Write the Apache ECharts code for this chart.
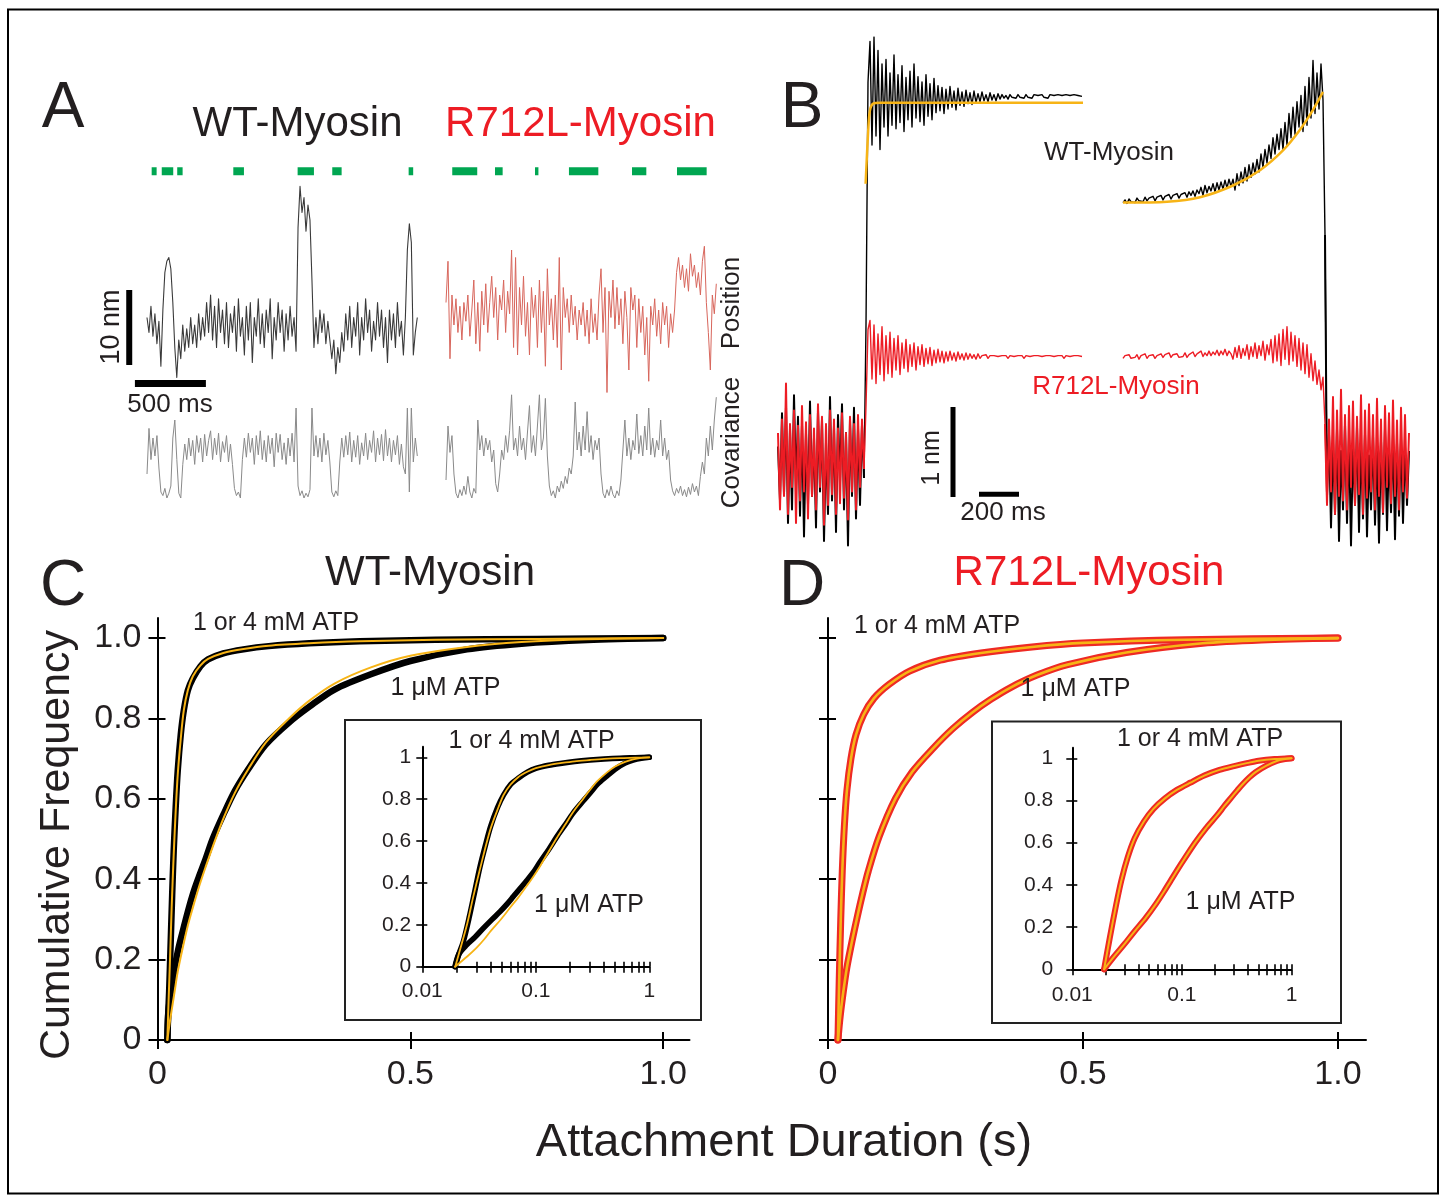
<!DOCTYPE html>
<html><head><meta charset="utf-8">
<script src="https://cdn.jsdelivr.net/npm/echarts@6/dist/echarts.min.js"></script>
<style>html,body{margin:0;padding:0;background:#fff}#c{width:1445px;height:1196px}</style>
</head><body><div id="c"></div>
<script>
// ================= DATA =================
// Panel A: single-molecule traces, one sample every 14 ms
const aSampleMs = 14;
// position, nm
const wtPosition = [1,-1,2.5,-1.5,1.5,-2.5,0.5,-5.5,2,7, 8.5,9,7.5,3,-3,-7,-2,-4.5,0,-3.5, -0.5,-3,1,-2.5,0,-3,1.5,-2,1,-1.5, 3,-1,4,-2,2.5,-3,3.5,-1,2,-2.5, 3,-3,1.5,-1,2.5,-3.5,3.5,-1.5,1,-4, 2.5,-2,3,-5,1,-1.5,3.5,-2.5,1.5,-3, 2,-1,3.5,-4.5,1,-2,3,-1,2,-3.5, 1.5,-2,2.5,-1.5,1,-3.5,13,18.5,15,17, 12.5,16,14,6,-3,1,-2.5,2,-1,1.5, -2.5,0.5,-2,-4.5,-2,-6.5,-3,-5,-1,-3.5, 1.5,-2,2.5,-3,1,-1.5,3,-4,1,-2, 3.5,-1,2,-3.5,0.5,-2,3,-1.5,2,-3, 1,-5,2,-2,1.5,-3,3,-1.5,0.5,-4, 1,10,13.5,11,-4,-1,1];
const r712Position = [3,8.5,-4.5,4,0,3.5,-1,2.5,-2,3, 0.5,4,-1.5,2,6,-2.5,3,-3.5,4.5,0, 5.5,-1,3,6.5,1,5,-2,4,2,6, -1,4.5,1.5,10,-3,9,-4,5,0,6.5, -1.5,3,-4,5,1,4,-3,6,-1,4.5, -5.5,7.5,0,3.5,-2,4,-3,9,-6,5, 1,3.5,-1,4,0,2.5,-2,2,0,3, -1.5,2,-2.5,3.5,-1,1.5,-2,4,7.5,-1, 5,-9,4.5,1,6,-0.5,5,0,3.5,-2.5, 4.5,1,-6,5,2,4,-3,3.5,-1,2.5, -4,1,-7.5,2.5,0,3.5,-1.5,2,-2.5,3, 0,2.5,-3,1.5,-1,2,7,9,6,8, 5,7.5,4.5,9.5,6.5,8,5,7,4,8.5, 10.5,3,-1,-6,4,1.5,5.5];
// covariance, arbitrary units
const wtCovariance = [0.3,0.68,0.42,0.6,0.45,0.62,0.35,0.15,0.12,0.18, 0.1,0.14,0.2,0.6,0.75,0.42,0.14,0.1,0.38,0.55, 0.42,0.6,0.45,0.58,0.38,0.62,0.48,0.6,0.4,0.63, 0.45,0.58,0.66,0.42,0.6,0.46,0.64,0.4,0.57,0.48, 0.62,0.4,0.55,0.38,0.18,0.12,0.15,0.1,0.42,0.6, 0.44,0.64,0.48,0.6,0.38,0.62,0.46,0.66,0.42,0.58, 0.4,0.62,0.47,0.6,0.36,0.64,0.48,0.63,0.42,0.56, 0.38,0.6,0.45,0.64,0.4,0.85,0.2,0.12,0.16,0.1, 0.14,0.11,0.17,0.85,0.45,0.62,0.44,0.6,0.4,0.64, 0.46,0.58,0.4,0.15,0.11,0.16,0.12,0.4,0.6,0.44, 0.62,0.46,0.65,0.4,0.58,0.44,0.62,0.38,0.56,0.45, 0.64,0.42,0.58,0.48,0.66,0.4,0.6,0.46,0.63,0.41, 0.67,0.45,0.6,0.4,0.58,0.46,0.62,0.38,0.55,0.36, 0.3,0.85,0.15,0.85,0.4,0.6,0.45];
const r712Covariance = [0.25,0.7,0.48,0.62,0.3,0.14,0.1,0.17,0.12,0.2, 0.13,0.28,0.15,0.1,0.18,0.14,0.75,0.5,0.62,0.45, 0.6,0.5,0.58,0.4,0.5,0.22,0.15,0.3,0.5,0.42, 0.62,0.48,0.66,0.96,0.5,0.6,0.45,0.7,0.5,0.6, 0.42,0.65,0.87,0.48,0.62,0.45,0.7,0.96,0.5,0.6, 0.93,0.45,0.2,0.12,0.16,0.1,0.2,0.15,0.24,0.18, 0.28,0.22,0.35,0.3,0.45,0.9,0.5,0.65,0.45,0.7, 0.5,0.82,0.48,0.62,0.42,0.58,0.5,0.6,0.3,0.14, 0.1,0.17,0.12,0.2,0.13,0.1,0.16,0.12,0.25,0.5, 0.75,0.45,0.6,0.42,0.58,0.5,0.8,0.47,0.62,0.45, 0.7,0.5,0.85,0.46,0.6,0.44,0.58,0.5,0.75,0.45, 0.6,0.42,0.5,0.25,0.16,0.12,0.18,0.14,0.2,0.12, 0.17,0.11,0.19,0.13,0.22,0.15,0.2,0.12,0.28,0.4, 0.3,0.6,0.45,0.7,0.5,0.75,0.94];
// detected binding events [start ms, end ms]
const wtEvents = [[33,68],[104,185],[213,251],[608,683],[1061,1176],[1305,1371],[1843,1875]];
const r712Events = [[44,220],[345,399],[627,651],[866,1073],[1310,1411],[1627,1836]];

// Panel B: ensemble averages, values in 0.01 nm, one sample every 10 ms
const bSampleMs = 10;
const bStartPre = 0, bStartPlateau = 440, bStartRight = 1725, bStartPost = 2735;
const bWtPre = [15,-45,52,-38,60,-70,35,-55,72,-30,48,-62,40,-85,30,-50,65,-40,25,-75,55,-35,45,-90,20,-60,70,-45,38,-80,50,-25,62,-55,30,-95,45,-40,58,-65,35,-50,40,-20];
const bWtPlateau = [150,420,465,350,470,360,455,345,440,370, 445,360,430,372,450,368,428,375,438,365, 425,378,432,370,440,380,426,376,420,372, 428,382,418,378,424,386,416,388,414,385, 412,390,415,392,410,389,413,394,409,393, 411,396,408,395,410,397,407,398,409,399, 406,398,408,400,406,399,407,401, 406,402,405,401,406,403,405,402,406,403,405,402,406,403,405,402,406,404,405,403,406,403,405,402,406,404,405,403,406,404,405,403,406,404,405,403,406,404,405,403,404];
const bWtRight = [286,289,285,290,287,289,286,291,288,290, 287,292,288,291,289,293,288,292,290,294, 289,293,291,295,290,294,292,296,291,295, 293,297,292,298,294,299,293,300, 296,303,294,305,297,304,299,307,298,308,300,309,301,311,302,312,304, 312,300,318,305,320,308,325,310,328,314,330,318,334, 320,340,325,345,330,350,335,358,340,362,345,368, 345,375,350,385,358,392,362,398,370, 405,365,415,372,425,380, 444,385,430,390,440,400];
const bWtPost = [250,-40,30,-75,20,-60,35,-90,10,-55,40,-70,25,-95,15,-50,38,-80,20,-65,30,-85,5,-55,28,-72,18,-92,22,-60,35,-78,12,-58,30,-88,20,-62,25,-70,15,-50,10];
const bRedPre = [30,-55,45,-40,85,-60,40,-30,55,-70,38,-45,60,-35,42,-65,50,-40,35,-55,62,-30,48,-72,40,-50,55,-38,45,-60,35,-48,52,-42,30,-66,48,-35,40,-55,50,-30,45,-10];
const bRedPlateau = [60,145,155,90,150,85,140,95,148,88, 138,96,142,92,135,100,138,95,130,102, 134,98,128,104,130,100,126,106,128,104, 124,107,125,105,122,108,123,109,121,108, 120,110,121,111,119,110,120,112,118,111, 119,112,118,113,117,112,118,113,116,114, 117,113, 116,114,116,114,115,114,116,114,116,113,116,114,115,114,116,114,116,113,116,114,115,114,116,114,116,114,115,113,116,114,116,114,115,114,116,114,116,113,116,114,115,114,116,114,116,114,115];
const bRedRight = [113,116,114,117,113,115,114,117,112,116, 114,118,113,116,115,117,113,116,114,118, 114,117,115,119,114,117,115,118,114,116, 115,119,114,117,116,120,115,118,116,121, 115,119,116,121,116,120,117,122,116,121, 117,123,116,121,118, 112,125,114,127,113,124,116,128,112,126,115,130,113,127,116,132,111,128,117,134, 108,138,110,140,105,145,112,148,106,142,110,138,104, 135,100,130,96,128,92,118,88,110,84,100,78,92];
const bRedPost = [40,-50,45,-35,70,-60,55,-40,78,-45,50,-55,60,-30,65,-50,48,-38,72,-60,55,-42,62,-35,50,-55,68,-40,45,-58,60,-30,52,-48,66,-40,44,-55,58,-35,50,-42,30];
// exponential fits [ms, 0.01 nm]
const bWtFitStart = [[438,307],[452,370],[460,389],[476,396],[510,397],[1525,397]];
const bWtFitEnd = [[1725,286],[1945,287],[2110,292],[2275,305],[2410,322],[2525,344],[2610,367],[2675,389],[2725,409]];

// Panels C, D: cumulative distributions [duration s, cumulative frequency]
const wtHighAtp = [[0.0195,0],[0.021,0.06],[0.023,0.12],[0.026,0.24],[0.029,0.36],[0.032,0.47],[0.036,0.58],[0.04,0.67],[0.046,0.76],[0.052,0.82],[0.06,0.87],[0.07,0.9],[0.085,0.93],[0.1,0.947],[0.13,0.962],[0.17,0.972],[0.22,0.98],[0.3,0.987],[0.4,0.992],[0.55,0.996],[0.75,0.998],[1.0,1.0]];
const wtHighAtpFit = [[0.0195,0],[0.022,0.1],[0.025,0.21],[0.028,0.33],[0.032,0.46],[0.036,0.57],[0.04,0.66],[0.046,0.75],[0.052,0.82],[0.06,0.87],[0.07,0.905],[0.085,0.932],[0.1,0.948],[0.13,0.963],[0.17,0.973],[0.22,0.981],[0.3,0.987],[0.4,0.992],[0.55,0.996],[0.75,0.998],[1.0,1.0]];
const wtLowAtp = [[0.0194,0],[0.021,0.06],[0.0246,0.104],[0.029,0.14],[0.0344,0.183],[0.041,0.225],[0.0484,0.263],[0.056,0.3],[0.0634,0.335],[0.073,0.375],[0.083,0.41],[0.095,0.45],[0.109,0.5],[0.13,0.56],[0.153,0.62],[0.18,0.675],[0.214,0.735],[0.26,0.79],[0.301,0.83],[0.35,0.872],[0.422,0.91],[0.5,0.943],[0.612,0.972],[0.72,0.986],[0.85,0.995],[1.0,1.0]];
const wtLowAtpFit = [[0.0194,0],[0.025,0.05],[0.03,0.09],[0.035,0.13],[0.04,0.17],[0.05,0.23],[0.06,0.285],[0.07,0.33],[0.083,0.385],[0.095,0.43],[0.109,0.48],[0.13,0.55],[0.153,0.615],[0.18,0.675],[0.214,0.74],[0.26,0.8],[0.301,0.845],[0.35,0.887],[0.422,0.927],[0.5,0.956],[0.612,0.978],[0.72,0.99],[0.85,0.997],[1.0,1.0]];
const r712HighAtp = [[0.0195,0],[0.022,0.15],[0.025,0.3],[0.028,0.42],[0.032,0.53],[0.037,0.62],[0.045,0.7],[0.055,0.76],[0.07,0.81],[0.09,0.85],[0.12,0.885],[0.16,0.918],[0.22,0.945],[0.3,0.963],[0.4,0.978],[0.5,0.988],[0.7,0.996],[1.0,1.0]];
const r712HighAtpFit = [[0.0195,0],[0.022,0.15],[0.025,0.3],[0.028,0.42],[0.032,0.53],[0.037,0.62],[0.045,0.7],[0.055,0.76],[0.07,0.81],[0.09,0.85],[0.12,0.885],[0.16,0.918],[0.22,0.945],[0.3,0.963],[0.4,0.978],[0.5,0.988],[0.7,0.996],[1.0,1.0]];
const r712LowAtp = [[0.0195,0],[0.024,0.06],[0.03,0.12],[0.037,0.18],[0.047,0.245],[0.058,0.31],[0.068,0.365],[0.079,0.42],[0.1,0.505],[0.132,0.6],[0.165,0.667],[0.207,0.727],[0.245,0.775],[0.283,0.815],[0.32,0.848],[0.358,0.877],[0.41,0.908],[0.47,0.934],[0.585,0.964],[0.735,0.987],[0.85,0.995],[1.0,1.0]];
const r712LowAtpFit = [[0.0195,0],[0.024,0.06],[0.03,0.12],[0.037,0.18],[0.047,0.245],[0.058,0.31],[0.068,0.365],[0.079,0.42],[0.1,0.505],[0.132,0.6],[0.165,0.667],[0.207,0.727],[0.245,0.775],[0.283,0.815],[0.32,0.848],[0.358,0.877],[0.41,0.908],[0.47,0.934],[0.585,0.964],[0.735,0.987],[0.85,0.995],[1.0,1.0]];

// tick labels
const mainXTicks = [0, 0.5, 1];
const mainYTicks = [0, 0.2, 0.4, 0.6, 0.8, 1];
const insetYTicks = [0, 0.2, 0.4, 0.6, 0.8, 1];
const insetXTicks = [0.01,0.02,0.03,0.04,0.05,0.06,0.07,0.08,0.09,0.1,0.2,0.3,0.4,0.5,0.6,0.7,0.8,0.9,1];
const insetXLabels = [0.01, 0.1, 1];

// ================= BUILD =================
const FONT = "'Liberation Sans', Arial, Helvetica, sans-serif";
const INK = '#231f20';
const RED = '#ed1c24';
const YEL = '#f7b416';
const seq = (arr, t0, dt) => arr.map((v, i) => [t0 + i * dt, v]);
const logPts = arr => arr.map(p => [Math.log10(p[0]), p[1]]);

const gridRects = [
  {left:120, top:160, width:300, height:240},     // 0 A WT position
  {left:446, top:160, width:274, height:240},     // 1 A R712L position
  {left:147, top:390, width:273, height:120},     // 2 A WT cov
  {left:446, top:390, width:274, height:120},     // 3 A R712L cov
  {left:778, top:37, width:632, height:513},      // 4 B
  {left:157.5, top:618, width:532, height:422},   // 5 C
  {left:157.5, top:618, width:532, height:422},   // 6 C ticks inside
  {left:422.3, top:746.7, width:227, height:220}, // 7 C inset
  {left:422.3, top:746.7, width:227, height:220}, // 8
  {left:828, top:618, width:538, height:422},     // 9 D
  {left:828, top:618, width:538, height:422},     // 10
  {left:1072.3, top:747.7, width:219.2, height:221.6}, // 11 D inset
  {left:1072.3, top:747.7, width:219.2, height:221.6}  // 12
];
const grid = gridRects.map(r => Object.assign({containLabel:false, outerBoundsMode:'none', show:false}, r));

const hidden = (gi, min, max) => ({gridIndex:gi, type:'value', min, max, show:false, splitLine:{show:false}});
const fmt1 = v => v === 0 ? '0' : v.toFixed(1);
const fmtInsetY = v => v === 0 ? '0' : (v === 1 ? '1' : String(v));
const fmtInsetX = v => ({'-2':'0.01','-1':'0.1','0':'1'})[String(Math.round(v))];
const logTicks = insetXTicks.map(v => Math.log10(v));
const logLabels = insetXLabels.map(v => Math.log10(v));

function visAxis(gi, min, max, ticks, labels, fmt, o) {
  return {gridIndex:gi, type:'value', min, max,
    axisLine:{show:true, onZero:false, lineStyle:{color:'#000', width:o.lw}},
    axisTick:{show:true, inside:false, length:o.tl, customValues:ticks, lineStyle:{color:'#000', width:o.tw}},
    axisLabel:{show:!!labels, customValues:labels || ticks, formatter:fmt, fontSize:o.fs, margin:o.m, color:INK, fontFamily:FONT},
    splitLine:{show:false}};
}
function dupAxis(gi, min, max, ticks, o) {
  return {gridIndex:gi, type:'value', min, max,
    axisLine:{show:false, onZero:false}, axisLabel:{show:false}, splitLine:{show:false},
    axisTick:{show:true, inside:true, length:o.tl, customValues:ticks, lineStyle:{color:'#000', width:o.tw}}};
}
const MO = {lw:2, tl:9, tw:2, fs:34};
const IO = {lw:2, tl:6, tw:1.6, fs:21};

const xAxis = [
  hidden(0, -190, 1923), hidden(1, 0, 1930), hidden(2, 0, 1923), hidden(3, 0, 1930), hidden(4, 0, 3160),
  visAxis(5, 0, 1.052, mainXTicks, mainXTicks, fmt1, Object.assign({m:18}, MO)),
  dupAxis(6, 0, 1.052, mainXTicks, {tl:8, tw:2}),
  visAxis(7, -2, 0, logTicks, logLabels, fmtInsetX, Object.assign({m:14}, IO)),
  dupAxis(8, -2, 0, logTicks, {tl:5, tw:1.6}),
  visAxis(9, 0, 1.055, mainXTicks, mainXTicks, fmt1, Object.assign({m:18}, MO)),
  dupAxis(10, 0, 1.055, mainXTicks, {tl:8, tw:2}),
  visAxis(11, -2, 0, logTicks, logLabels, fmtInsetX, Object.assign({m:15}, IO)),
  dupAxis(12, -2, 0, logTicks, {tl:5, tw:1.6})
];
const yAxis = [
  hidden(0, -10, 22), hidden(1, -10, 22), hidden(2, 0, 1), hidden(3, 0, 1), hidden(4, -100, 470),
  visAxis(5, 0, 1.05, mainYTicks, mainYTicks, fmt1, Object.assign({m:16}, MO)),
  dupAxis(6, 0, 1.05, mainYTicks, {tl:8, tw:2}),
  visAxis(7, 0, 1.0506, insetYTicks, insetYTicks, fmtInsetY, Object.assign({m:11}, IO)),
  dupAxis(8, 0, 1.0506, insetYTicks, {tl:5, tw:1.6}),
  visAxis(9, 0, 1.05, mainYTicks, null, fmt1, Object.assign({m:16}, MO)),
  dupAxis(10, 0, 1.05, mainYTicks, {tl:8, tw:2}),
  visAxis(11, 0, 1.05, insetYTicks, insetYTicks, fmtInsetY, Object.assign({m:19}, IO)),
  dupAxis(12, 0, 1.05, insetYTicks, {tl:5, tw:1.6})
];

function line(ai, data, color, width, extra) {
  return Object.assign({type:'line', xAxisIndex:ai, yAxisIndex:ai, data, symbol:'none', showSymbol:false,
    silent:true, animation:false, lineStyle:{color, width, cap:'butt', join:'round'}, itemStyle:{color}}, extra || {});
}
function curve(ai, data, color, width, z) {
  return line(ai, data, color, width, {smooth:0.3, clip:false, z,
    lineStyle:{color, width, cap:'round', join:'round'}});
}
const GREEN_LEVEL = 20.5; // nm row where event markers sit
function events(ai, data) {
  return {type:'custom', xAxisIndex:ai, yAxisIndex:ai, data, silent:true, animation:false,
    encode:{x:[0,1]},
    renderItem:(params, api) => {
      const p1 = api.coord([api.value(0), GREEN_LEVEL]);
      const p2 = api.coord([api.value(1), GREEN_LEVEL]);
      return {type:'rect', shape:{x:p1[0], y:p1[1]-4, width:Math.max(2, p2[0]-p1[0]), height:8}, style:{fill:'#00a651'}};
    }};
}

// B: baseline noise drawn thicker; plateau series start from the last baseline sample
const wtPreXY = seq(bWtPre, bStartPre, bSampleMs), redPreXY = seq(bRedPre, bStartPre, bSampleMs);
const wtPostXY = seq(bWtPost, bStartPost, bSampleMs), redPostXY = seq(bRedPost, bStartPost, bSampleMs);
const wtRightXY = seq(bWtRight, bStartRight, bSampleMs), redRightXY = seq(bRedRight, bStartRight, bSampleMs);

const series = [
  // Panel A
  line(0, seq(wtPosition, 0, aSampleMs), '#3a3a3a', 1.1),
  events(0, wtEvents),
  line(0, [[-125,-5.33],[-125,4.67]], '#000', 6),   // 10 nm bar
  line(0, [[-85,-7.8],[415,-7.8]], '#000', 7),      // 500 ms bar
  line(1, seq(r712Position, 0, aSampleMs), '#d8665c', 1),
  events(1, r712Events),
  line(2, seq(wtCovariance, 0, aSampleMs), '#8a8a8a', 1),
  line(3, seq(r712Covariance, 0, aSampleMs), '#8a8a8a', 1),
  // Panel B
  line(4, wtPreXY, '#000', 2),
  line(4, [wtPreXY[wtPreXY.length-1]].concat(seq(bWtPlateau, bStartPlateau, bSampleMs)), '#000', 1.4),
  line(4, wtRightXY.concat([wtPostXY[0], wtPostXY[1]]), '#000', 1.4),
  line(4, wtPostXY, '#000', 2),
  line(4, redPreXY, RED, 2),
  line(4, [redPreXY[redPreXY.length-1]].concat(seq(bRedPlateau, bStartPlateau, bSampleMs)), RED, 1.4),
  line(4, redRightXY.concat([redPostXY[0], redPostXY[1]]), RED, 1.4),
  line(4, redPostXY, RED, 2),
  line(4, bWtFitStart, YEL, 2.5, {smooth:0.3}),
  line(4, bWtFitEnd, YEL, 2.5, {smooth:0.3}),
  line(4, [[875,59],[875,-41]], '#000', 5),        // 1 nm bar
  line(4, [[1005,-38],[1205,-38]], '#000', 5),     // 200 ms bar
  // Panel C
  curve(5, wtLowAtp, '#000', 6.5, 3), curve(5, wtHighAtp, '#000', 6.5, 3),
  curve(5, wtLowAtpFit, YEL, 2, 4), curve(5, wtHighAtpFit, YEL, 2, 4),
  curve(7, logPts(wtLowAtp), '#000', 5.5, 3), curve(7, logPts(wtHighAtp), '#000', 5.5, 3),
  curve(7, logPts(wtLowAtpFit), YEL, 1.8, 4), curve(7, logPts(wtHighAtpFit), YEL, 1.8, 4),
  // Panel D
  curve(9, r712LowAtp, '#ee2a24', 7, 3), curve(9, r712HighAtp, '#ee2a24', 7, 3),
  curve(9, r712LowAtpFit, YEL, 2.6, 4), curve(9, r712HighAtpFit, YEL, 2.6, 4),
  curve(11, logPts(r712LowAtp), '#ee2a24', 6, 3), curve(11, logPts(r712HighAtp), '#ee2a24', 6, 3),
  curve(11, logPts(r712LowAtpFit), YEL, 2, 4), curve(11, logPts(r712HighAtpFit), YEL, 2, 4)
];

function txt(text, x, y, size, color, rot) {
  return {type:'text', x, y, rotation: rot || 0, silent:true, z:10,
    style:{text, fontSize:size, fontFamily:FONT, fill:color || INK, align:'center', verticalAlign:'middle'}};
}
const R90 = Math.PI / 2;
const graphic = {elements: [
  {type:'rect', shape:{x:8, y:9.5, width:1430, height:1184}, style:{fill:'none', stroke:'#000', lineWidth:2}, silent:true},
  {type:'rect', shape:{x:345, y:720, width:356, height:300}, style:{fill:'none', stroke:'#222', lineWidth:2}, silent:true},
  {type:'rect', shape:{x:992, y:721.5, width:349, height:301.5}, style:{fill:'none', stroke:'#222', lineWidth:2}, silent:true},
  txt('A', 63, 109, 64), txt('B', 802, 109, 64), txt('C', 63, 587, 64), txt('D', 802, 587, 64),
  txt('WT-Myosin', 297.5, 124, 42), txt('R712L-Myosin', 580.5, 124, 42, RED),
  txt('10 nm', 111.5, 327, 27, INK, R90), txt('500 ms', 170, 405, 26),
  txt('Position', 732, 303, 26, INK, R90), txt('Covariance', 732, 442.5, 26, INK, R90),
  txt('WT-Myosin', 1109, 153, 26), txt('R712L-Myosin', 1116, 387, 26, RED),
  txt('1 nm', 932, 458, 25, INK, R90), txt('200 ms', 1003, 513, 26),
  txt('WT-Myosin', 430, 573, 42), txt('R712L-Myosin', 1089, 573, 42, RED),
  txt('Cumulative Frequency', 57, 845, 43, INK, R90),
  txt('Attachment Duration (s)', 784, 1143, 47),
  txt('1 or 4 mM ATP', 276, 623, 25), txt('1 μM ATP', 445.5, 688, 25),
  txt('1 or 4 mM ATP', 531.5, 741.5, 25), txt('1 μM ATP', 589, 905, 25),
  txt('1 or 4 mM ATP', 937, 626, 25), txt('1 μM ATP', 1075.5, 689, 25),
  txt('1 or 4 mM ATP', 1200, 739, 25), txt('1 μM ATP', 1240.5, 902, 25)
]};

const chart = echarts.init(document.getElementById('c'), null, {renderer:'canvas'});
chart.setOption({backgroundColor:'#fff', animation:false, grid, xAxis, yAxis, series, graphic});
</script>
</body></html>
